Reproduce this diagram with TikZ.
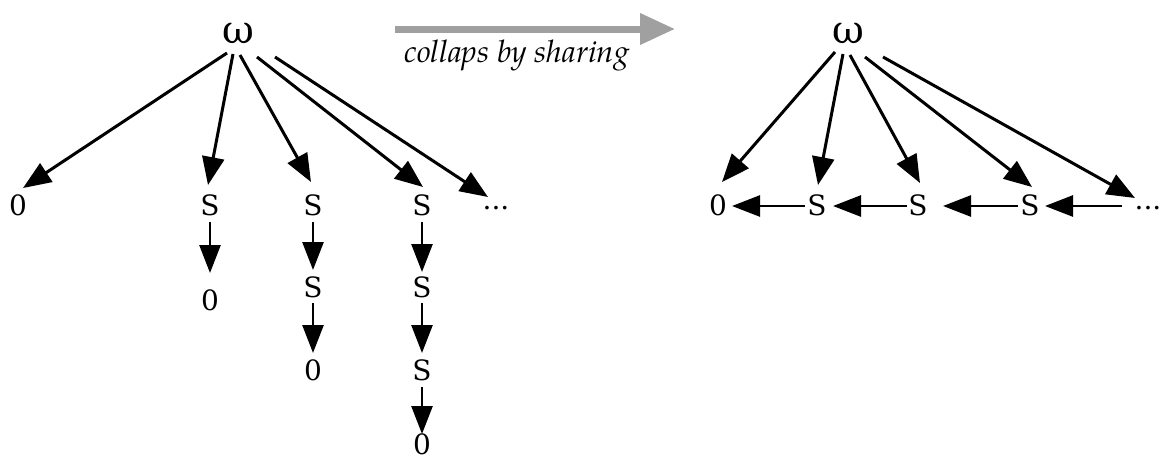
\documentclass[tikz,border=0pt]{standalone}
\usepackage{fontspec}
\setmainfont{DejaVu Serif}
\newfontfamily\notefont{TeX Gyre Pagella}
\usetikzlibrary{arrows.meta,calc}
\definecolor{flowgray}{RGB}{160,160,160}
\begin{document}
\begin{tikzpicture}[x=1pt,y=-1pt,
  lbl/.style={inner sep=0pt, font=\fontsize{28}{28}\selectfont},
  root/.style={inner sep=0pt, font=\fontsize{39}{39}\selectfont},
  edge/.style={line width=3pt, -{Triangle[length=28pt,width=22pt]}},
  link/.style={line width=2.6pt, -{Triangle[length=28pt,width=21pt]}}]
\useasboundingbox (0,0) rectangle (1160,461);

% ---- left: the unfolded numerals ----
\node[root] (wL) at (238,33) {ω};
\node[lbl] (z0) at (18,205) {0};
\node[lbl] (a1) at (210,205) {S};
\node[lbl] (a2) at (210,300) {0};
\node[lbl] (b1) at (313,205) {S};
\node[lbl] (b2) at (313,287) {S};
\node[lbl] (b3) at (313,370) {0};
\node[lbl] (c1) at (422,205) {S};
\node[lbl] (c2) at (422,287) {S};
\node[lbl] (c3) at (422,370) {S};
\node[lbl] (c4) at (422,444) {0};
\node[lbl] (dL) at (496,208) {...};

\draw[edge] ($(wL)+(-11,20)$) -- ($(z0)+(5,-17)$);
\draw[edge] ($(wL)+(-5,21)$)  -- ($(a1)+(-2,-20)$);
\draw[edge] ($(wL)+(2,22)$)   -- ($(b1)+(-2,-23)$);
\draw[edge] ($(wL)+(19,24)$)  -- ($(c1)+(1,-18)$);
\draw[edge] ($(wL)+(37,24)$)  -- ($(dL)+(-8,-11)$);

\draw[link] ($(a1)+(0,17)$) -- ($(a2)+(0,-27)$);
\draw[link] ($(b1)+(0,17)$) -- ($(b2)+(0,-17)$);
\draw[link] ($(b2)+(0,16)$) -- ($(b3)+(0,-17)$);
\draw[link] ($(c1)+(0,17)$) -- ($(c2)+(0,-15)$);
\draw[link] ($(c2)+(0,16)$) -- ($(c3)+(0,-17)$);
\draw[link] ($(c3)+(0,17)$) -- ($(c4)+(0,-10)$);

% ---- the transformation arrow ----
\coordinate (gs) at (395,29);
\coordinate (ge) at (675,29);
\draw[line width=7pt, flowgray, -{Triangle[length=35pt,width=30pt]}] (gs) -- (ge);
\node[anchor=base, inner sep=0pt, font=\notefont\itshape\fontsize{31}{31}\selectfont]
  (note) at (517,62) {collaps by sharing};

% ---- right: the shared numerals ----
\node[root] (wR) at (848,33) {ω};
\node[lbl] (r0) at (718,205) {0};
\node[lbl] (r1) at (817,205) {S};
\node[lbl] (r2) at (918,205) {S};
\node[lbl] (r3) at (1030,205) {S};
\node[lbl] (rd) at (1148,208) {...};

\draw[edge] ($(wR)+(-13,19)$) -- ($(r0)+(4,-23)$);
\draw[edge] ($(wR)+(-5,21)$)  -- ($(r1)+(1,-20)$);
\draw[edge] ($(wR)+(2,22)$)   -- ($(r2)+(2,-22)$);
\draw[edge] ($(wR)+(17,24)$)  -- ($(r3)+(2,-18)$);
\draw[edge] ($(wR)+(35,24)$)  -- ($(rd)+(-13,-10)$);

\draw[link] ($(r1)+(-12,1)$) -- ($(r0)+(14,1)$);
\draw[link] ($(r2)+(-11,1)$) -- ($(r1)+(16,1)$);
\draw[link] ($(r3)+(-12,1)$) -- ($(r2)+(25,1)$);
\draw[link] ($(rd)+(-26,-2)$) -- ($(r3)+(15,1)$);
\end{tikzpicture}
\end{document}
